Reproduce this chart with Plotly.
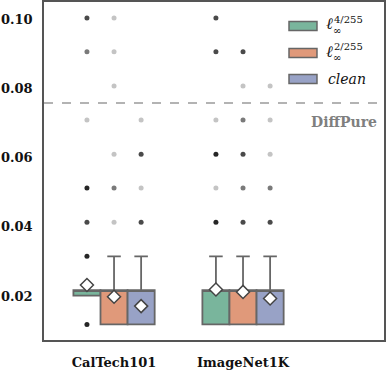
import plotly.graph_objects as go

# ---- data ----
datasets = ["CalTech101", "ImageNet1K"]
settings = ["4/255", "2/255", "clean"]

# box statistics, [dataset][setting]
q1_vals = [[0.0201, 0.0118, 0.0118], [0.0118, 0.0118, 0.0118]]
q3_vals = [[0.0217, 0.0217, 0.0217], [0.0217, 0.0217, 0.0217]]
med_vals = [[0.0217, 0.0217, 0.0217], [0.0217, 0.0217, 0.0217]]
lo_vals = [[0.0201, 0.0118, 0.0118], [0.0118, 0.0118, 0.0118]]
hi_vals = [[0.0217, 0.0315, 0.0315], [0.0315, 0.0315, 0.0315]]
mean_vals = [[0.0232, 0.0198, 0.0171], [0.0219, 0.0212, 0.0193]]

# outliers (value, how many points overlap there)
flier_vals = [
    [[0.1004, 0.0906, 0.0709, 0.0512, 0.0413, 0.0315, 0.0118],
     [0.1004, 0.0906, 0.0807, 0.0610, 0.0512, 0.0413],
     [0.0709, 0.0610, 0.0512, 0.0413]],
    [[0.1004, 0.0906, 0.0709, 0.0610, 0.0512, 0.0413],
     [0.0906, 0.0807, 0.0709, 0.0610, 0.0512, 0.0413],
     [0.0807, 0.0709, 0.0610, 0.0512, 0.0413]],
]
flier_counts = [
    [[3, 2, 1, 4, 3, 4, 4],
     [1, 1, 1, 1, 2, 1],
     [1, 3, 1, 3]],
    [[3, 3, 1, 4, 1, 4],
     [3, 1, 2, 3, 2, 3],
     [1, 1, 1, 2, 3]],
]

diffpure_level = 0.0758

# ---- styling ----
box_colors = ["#79b59c", "#e0997a", "#98a2c6"]
shade = {1: "#c4c4c4", 2: "#7a7a7a", 3: "#4a4a4a", 4: "#262626"}
box_w = 0.21
serif = "DejaVu Serif"

fig = go.Figure()

for k, s in enumerate(settings):
    off = (k - 1) * box_w
    xs = [i + off for i in range(len(datasets))]
    fig.add_trace(go.Box(
        x=xs,
        q1=[q1_vals[i][k] for i in range(len(datasets))],
        median=[med_vals[i][k] for i in range(len(datasets))],
        q3=[q3_vals[i][k] for i in range(len(datasets))],
        lowerfence=[lo_vals[i][k] for i in range(len(datasets))],
        upperfence=[hi_vals[i][k] for i in range(len(datasets))],
        width=box_w, whiskerwidth=0.5,
        fillcolor=box_colors[k], line=dict(color="#666666", width=1.8),
        boxpoints=False, showlegend=False, hoverinfo="skip"))

# outlier dots
for i in range(len(datasets)):
    for k in range(len(settings)):
        off = (k - 1) * box_w
        fig.add_trace(go.Scatter(
            x=[i + off] * len(flier_vals[i][k]), y=flier_vals[i][k],
            mode="markers", showlegend=False,
            marker=dict(size=5, color=[shade[c] for c in flier_counts[i][k]])))

# mean diamonds
mx, my = [], []
for i in range(len(datasets)):
    for k in range(len(settings)):
        mx.append(i + (k - 1) * box_w)
        my.append(mean_vals[i][k])
fig.add_trace(go.Scatter(x=mx, y=my, mode="markers", showlegend=False,
                         marker=dict(symbol="diamond", size=10, color="white",
                                     line=dict(color="#444444", width=1.5))))

# DiffPure threshold
fig.add_shape(type="line", xref="paper", x0=0, x1=1, yref="y",
              y0=diffpure_level, y1=diffpure_level,
              line=dict(color="#9a9a9a", width=1.3, dash="dash"))
fig.add_annotation(text="DiffPure", xref="paper", yref="paper", x=0.985, y=0.645,
                   xanchor="right", yanchor="middle", showarrow=False,
                   font=dict(family=serif, size=14, color="#7f7f7f", weight="bold"))

# hand made legend
leg_y = [0.929, 0.849, 0.772]
for k, s in enumerate(settings):
    yc = leg_y[k]
    fig.add_shape(type="rect", xref="paper", yref="paper",
                  x0=0.7206, x1=0.8029, y0=yc - 0.0133, y1=yc + 0.0133,
                  fillcolor=box_colors[k], line=dict(color="#666666", width=1.5))
    if s == "clean":
        fig.add_annotation(text="clean", xref="paper", yref="paper", x=0.83, y=yc,
                           xanchor="left", yanchor="middle", showarrow=False,
                           font=dict(family=serif, size=14, style="italic", color="#111"))
    else:
        fig.add_annotation(text="ℓ", xref="paper", yref="paper", x=0.824, y=yc + 0.006,
                           xanchor="left", yanchor="middle", showarrow=False,
                           font=dict(family=serif, size=16, style="italic", color="#111"))
        fig.add_annotation(text=s, xref="paper", yref="paper", x=0.847, y=yc + 0.019,
                           xanchor="left", yanchor="middle", showarrow=False,
                           font=dict(family=serif, size=10, color="#111"))
        fig.add_annotation(text="∞", xref="paper", yref="paper", x=0.845, y=yc - 0.012,
                           xanchor="left", yanchor="middle", showarrow=False,
                           font=dict(family=serif, size=10, color="#111"))

axis_common = dict(showgrid=False, zeroline=False, showline=True, mirror=True,
                   linecolor="#555555", linewidth=1.5, ticks="", automargin=False)
fig.update_xaxes(range=[-0.543, 2.093], tickvals=list(range(len(datasets))),
                 ticktext=datasets, ticklabelstandoff=10,
                 tickfont=dict(family=serif, size=13, color="#111", weight="bold"),
                 **axis_common)
fig.update_yaxes(range=[0.0073, 0.105], tickvals=[0.02, 0.04, 0.06, 0.08, 0.10],
                 tickformat=".2f", ticklabelstandoff=7,
                 tickfont=dict(family=serif, size=13, color="#111", weight="bold"),
                 **axis_common)
fig.update_layout(width=386, height=370, margin=dict(l=44, r=2, t=2, b=30),
                  plot_bgcolor="white", paper_bgcolor="white", showlegend=False)

# drop the browser's default page margin so the figure sits at the top-left
fig.write_html("out.html", config={"displayModeBar": False},
               post_script="document.body.style.margin='0px';")
